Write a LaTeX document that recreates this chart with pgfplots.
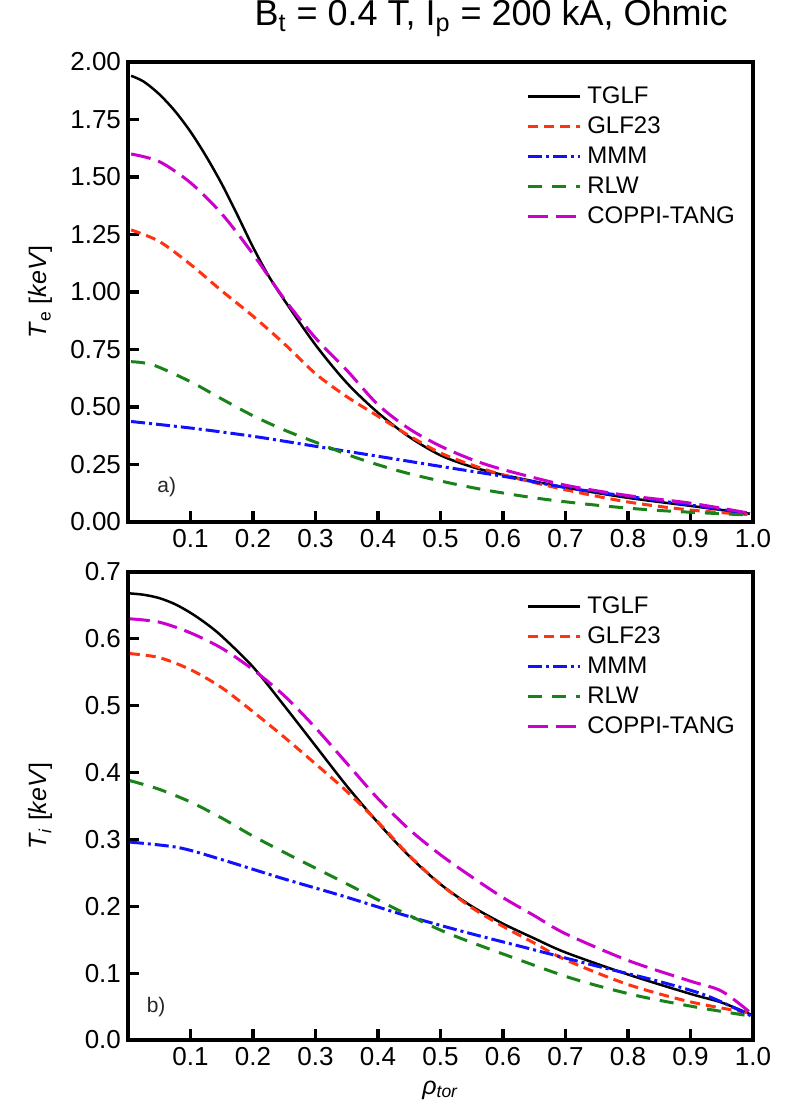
\documentclass[border=0pt]{standalone}
\usepackage{fontspec}
\setmainfont{Liberation Sans}
\usepackage{pgfplots}
\pgfplotsset{compat=1.18}
\definecolor{cglf}{RGB}{255,51,17}
\definecolor{cmmm}{RGB}{17,17,255}
\definecolor{crlw}{RGB}{25,130,25}
\definecolor{ccop}{RGB}{204,0,204}
\pgfplotsset{
  panel/.style={
    scale only axis, width=312.5pt,
    xmin=0, xmax=1,
    xtick={0.1,0.2,0.3,0.4,0.5,0.6,0.7,0.8,0.9,1.0},
    xticklabel style={/pgf/number format/.cd,fixed,fixed zerofill,precision=1},
    tick align=inside, xtick pos=bottom, ytick pos=left,
    major tick length=5.5pt,
    every tick/.style={black, line width=1.6pt},
    axis line style={line width=2pt},
    tick label style={font=\fontsize{13}{15}\selectfont},
    /pgf/number format/assume math mode=true,
    label style={font=\fontsize{12.5}{15}\selectfont},
    ylabel style={at={(axis description cs:-0.14,0.5)}, anchor=center},
    legend style={draw=none, fill=none, font=\fontsize{12}{14}\selectfont,
      anchor=north west, row sep=4pt, column sep=3pt,
      nodes={inner sep=0pt, text height=9pt, text depth=2pt}},
    legend cell align=left,
    legend image code/.code={\draw[##1] (0pt,0pt) -- (26pt,0pt);},
  },
  tglf/.style={black, line width=1.25pt, smooth},
  glf/.style={cglf, line width=1.5pt, dash pattern=on 5pt off 3pt, smooth},
  mmm/.style={cmmm, line width=1.5pt, dash pattern=on 7pt off 2pt on 1.5pt off 2pt, smooth},
  rlw/.style={crlw, line width=1.5pt, dash pattern=on 7pt off 5pt, smooth},
  cop/.style={ccop, line width=1.5pt, dash pattern=on 10pt off 4pt, smooth},
}
\begin{document}
\begin{tikzpicture}
\useasboundingbox (-64pt,-293pt) rectangle (328.5pt,261pt);
% ---------- panel a ----------
\begin{axis}[panel, name=top, at={(0,0)}, anchor=south west,
  height=230pt, ymin=0, ymax=2,
  ytick={0,0.25,0.5,0.75,1,1.25,1.5,1.75,2},
  yticklabel style={/pgf/number format/.cd,fixed,fixed zerofill,precision=2},
  ylabel={\textit{T}\textsubscript{e} [\textit{keV}]},
  legend style={at={(rel axis cs:0.627,0.959)}},
  title={B\textsubscript{t} = 0.4 T, I\textsubscript{p} = 200 kA, Ohmic},
  title style={font=\fontsize{18}{21}\selectfont, at={(axis description cs:0.581,1)}, anchor=base, yshift=12pt, inner sep=0pt},
]
\addplot[tglf] coordinates {(0.005,1.94) (0.025,1.915) (0.05,1.86) (0.075,1.787) (0.1,1.697) (0.125,1.59) (0.15,1.47) (0.175,1.335) (0.2,1.195) (0.225,1.07) (0.25,0.965) (0.3,0.77) (0.35,0.605) (0.4,0.475) (0.45,0.37) (0.5,0.29) (0.55,0.24) (0.6,0.205) (0.7,0.15) (0.8,0.105) (0.9,0.07) (0.995,0.036)};
\addlegendentry{TGLF}
\addplot[glf] coordinates {(0.005,1.27) (0.05,1.22) (0.1,1.12) (0.15,1.005) (0.2,0.895) (0.25,0.775) (0.3,0.645) (0.35,0.545) (0.4,0.46) (0.45,0.375) (0.5,0.30) (0.55,0.248) (0.6,0.205) (0.7,0.14) (0.8,0.087) (0.9,0.052) (0.995,0.032)};
\addlegendentry{GLF23}
\addplot[mmm] coordinates {(0.005,0.437) (0.105,0.407) (0.204,0.371) (0.305,0.327) (0.404,0.284) (0.504,0.240) (0.604,0.197) (0.704,0.148) (0.804,0.110) (0.904,0.072) (0.995,0.036)};
\addlegendentry{MMM}
\addplot[rlw] coordinates {(0.005,0.697) (0.04,0.683) (0.1,0.61) (0.15,0.535) (0.2,0.462) (0.25,0.40) (0.3,0.347) (0.37,0.275) (0.45,0.21) (0.55,0.15) (0.65,0.105) (0.75,0.073) (0.85,0.05) (0.995,0.030)};
\addlegendentry{RLW}
\addplot[cop] coordinates {(0.005,1.60) (0.05,1.567) (0.1,1.475) (0.15,1.34) (0.2,1.165) (0.25,0.97) (0.3,0.80) (0.35,0.66) (0.4,0.51) (0.45,0.405) (0.5,0.33) (0.55,0.272) (0.6,0.228) (0.7,0.16) (0.8,0.115) (0.9,0.082) (0.995,0.038)};
\addlegendentry{COPPI-TANG}
\node[font=\fontsize{10.5}{12}\selectfont, text=black!85] at (rel axis cs:0.062,0.075) {a)};
\end{axis}
% ---------- panel b ----------
\begin{axis}[panel, name=bot, at={(0,-259pt)}, anchor=south west,
  height=234pt, ymin=0, ymax=0.7,
  ytick={0,0.1,0.2,0.3,0.4,0.5,0.6,0.7},
  yticklabel style={/pgf/number format/.cd,fixed,fixed zerofill,precision=1},
  ylabel={\textit{T}\textsubscript{\textit{i}} [\textit{keV}]},
  xlabel={\textit{ρ}\textsubscript{\textit{tor}}},
  xlabel style={at={(axis description cs:0.5,0)}, anchor=center, yshift=-25pt},
  legend style={at={(rel axis cs:0.627,0.959)}},
]
\addplot[tglf] coordinates {(0.003,0.668) (0.025,0.666) (0.05,0.661) (0.075,0.652) (0.1,0.639) (0.125,0.623) (0.15,0.604) (0.2,0.558) (0.25,0.500) (0.3,0.440) (0.35,0.380) (0.4,0.325) (0.45,0.275) (0.5,0.233) (0.55,0.200) (0.6,0.174) (0.65,0.152) (0.7,0.131) (0.8,0.098) (0.9,0.069) (0.95,0.056) (0.997,0.038)};
\addlegendentry{TGLF}
\addplot[glf] coordinates {(0.003,0.578) (0.05,0.572) (0.1,0.554) (0.15,0.527) (0.2,0.491) (0.25,0.453) (0.3,0.413) (0.35,0.372) (0.4,0.326) (0.45,0.276) (0.5,0.233) (0.55,0.198) (0.6,0.170) (0.65,0.145) (0.7,0.120) (0.8,0.083) (0.9,0.057) (0.997,0.040)};
\addlegendentry{GLF23}
\addplot[mmm] coordinates {(0.003,0.296) (0.08,0.288) (0.146,0.271) (0.246,0.242) (0.345,0.215) (0.445,0.186) (0.545,0.160) (0.645,0.136) (0.744,0.112) (0.844,0.089) (0.924,0.067) (0.997,0.036)};
\addlegendentry{MMM}
\addplot[rlw] coordinates {(0.003,0.388) (0.05,0.375) (0.1,0.356) (0.15,0.332) (0.2,0.305) (0.266,0.273) (0.345,0.236) (0.431,0.195) (0.511,0.160) (0.611,0.125) (0.711,0.092) (0.811,0.067) (0.91,0.049) (0.995,0.036)};
\addlegendentry{RLW}
\addplot[cop] coordinates {(0.003,0.630) (0.05,0.625) (0.1,0.609) (0.15,0.586) (0.2,0.554) (0.25,0.515) (0.3,0.467) (0.35,0.414) (0.4,0.361) (0.45,0.315) (0.5,0.277) (0.55,0.244) (0.6,0.213) (0.65,0.186) (0.7,0.159) (0.8,0.119) (0.9,0.088) (0.95,0.073) (0.997,0.040)};
\addlegendentry{COPPI-TANG}
\node[font=\fontsize{10.5}{12}\selectfont, text=black!85] at (rel axis cs:0.045,0.07) {b)};
\end{axis}
\end{tikzpicture}
\end{document}
